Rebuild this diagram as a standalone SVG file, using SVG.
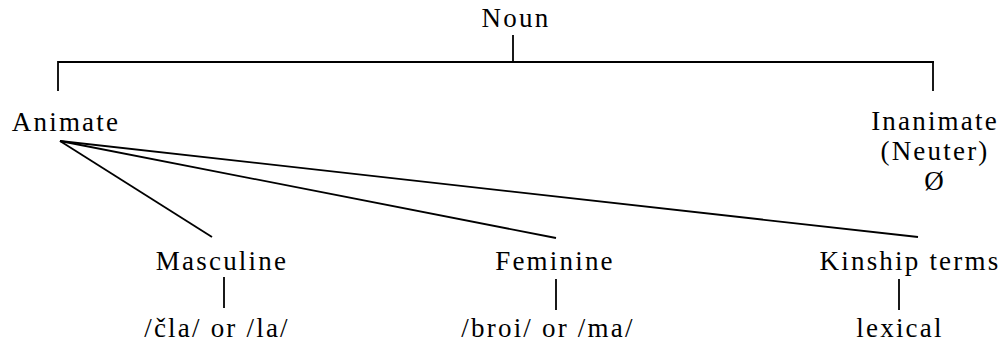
<svg xmlns="http://www.w3.org/2000/svg" width="1003" height="343" viewBox="0 0 1003 343">
<style>
text{font-family:"Liberation Serif","Times New Roman",serif;font-size:27px;letter-spacing:2.2px;fill:#000;text-anchor:middle}
.c line{stroke:#000;stroke-width:1.8;stroke-linecap:butt}
</style>
<rect width="1003" height="343" fill="#fff"/>
<g class="c" id="connectors">
<line x1="513" y1="35" x2="513" y2="62"/>
<line x1="58" y1="62" x2="934" y2="62"/>
<line x1="58" y1="61.1" x2="58" y2="91"/>
<line x1="933" y1="61.1" x2="933" y2="91"/>
<line x1="60" y1="141" x2="212" y2="237"/>
<line x1="60" y1="141" x2="556" y2="238"/>
<line x1="60" y1="141" x2="918" y2="237"/>
<line x1="224" y1="277" x2="224" y2="308"/>
<line x1="556" y1="279" x2="556" y2="310"/>
<line x1="899" y1="279" x2="899" y2="310"/>
</g>
<g id="noun"><text x="516" y="27">Noun</text></g>
<g id="animate"><text x="66" y="131">Animate</text></g>
<g id="inanimate"><text x="935" y="130">Inanimate</text><text x="935" y="160">(Neuter)</text><text x="935" y="190">Ø</text></g>
<g id="masculine"><text x="222" y="270">Masculine</text></g>
<g id="feminine"><text x="555" y="270">Feminine</text></g>
<g id="kinship"><text x="910" y="270">Kinship terms</text></g>
<g id="masc-marker"><text x="217" y="337">/čla/ or /la/</text></g>
<g id="fem-marker"><text x="548" y="337">/broi/ or /ma/</text></g>
<g id="kin-marker"><text x="900" y="337">lexical</text></g>
</svg>
